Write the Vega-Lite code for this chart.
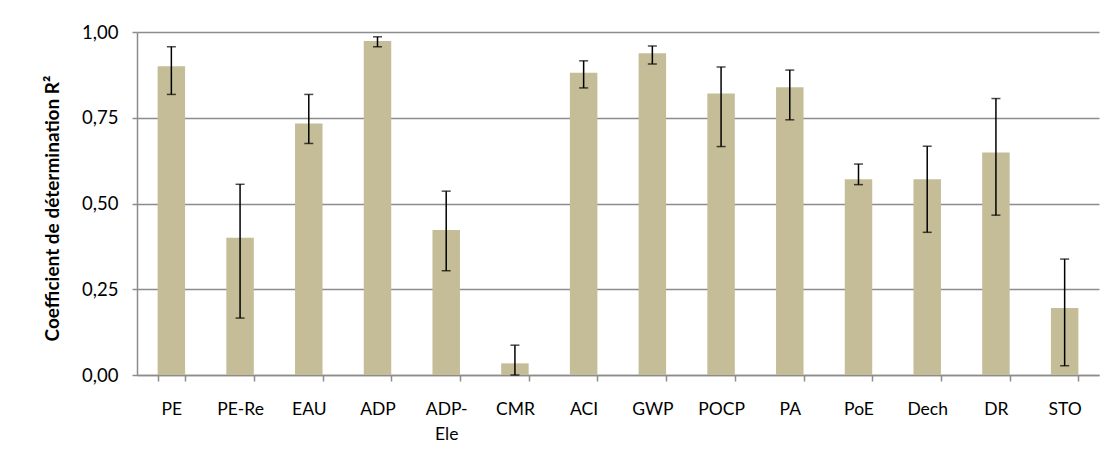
{
  "$schema": "https://vega.github.io/schema/vega-lite/v6.json",
  "autosize": "none",
  "width": 962,
  "height": 343,
  "padding": {"left": 137, "top": 32, "right": 16, "bottom": 93},
  "background": "white",
  "config": {
    "locale": {"number": {"decimal": ",", "thousands": " ", "grouping": [3], "currency": ["", " €"]}},
    "view": {"stroke": null},
    "font": "Lato"
  },
  "data": {
    "values": [
      {"cat": "PE", "r2": 0.90, "lo": 0.818, "hi": 0.957},
      {"cat": "PE-Re", "r2": 0.40, "lo": 0.166, "hi": 0.556},
      {"cat": "EAU", "r2": 0.733, "lo": 0.675, "hi": 0.818},
      {"cat": "ADP", "r2": 0.974, "lo": 0.957, "hi": 0.986},
      {"cat": "ADP-Ele", "r2": 0.423, "lo": 0.304, "hi": 0.536},
      {"cat": "CMR", "r2": 0.034, "lo": 0.0, "hi": 0.087},
      {"cat": "ACI", "r2": 0.881, "lo": 0.837, "hi": 0.916},
      {"cat": "GWP", "r2": 0.938, "lo": 0.907, "hi": 0.959},
      {"cat": "POCP", "r2": 0.821, "lo": 0.666, "hi": 0.898},
      {"cat": "PA", "r2": 0.839, "lo": 0.744, "hi": 0.889},
      {"cat": "PoE", "r2": 0.571, "lo": 0.555, "hi": 0.615},
      {"cat": "Dech", "r2": 0.571, "lo": 0.416, "hi": 0.667},
      {"cat": "DR", "r2": 0.649, "lo": 0.466, "hi": 0.806},
      {"cat": "STO", "r2": 0.195, "lo": 0.027, "hi": 0.338}
    ]
  },
  "encoding": {
    "x": {
      "field": "cat",
      "type": "nominal",
      "sort": null,
      "scale": {"paddingInner": 0.6, "paddingOuter": 0.3},
      "axis": {
        "title": null,
        "labelAngle": 0,
        "labelFont": "Lato",
        "labelFontSize": 17.5,
        "labelColor": "#000000",
        "labelPadding": 19,
        "labelLineHeight": 25,
        "labelBaseline": "top",
        "labelExpr": "datum.value == 'ADP-Ele' ? ['ADP-', 'Ele'] : datum.value",
        "tickBand": "extent",
        "tickSize": 6,
        "tickColor": "#8c8c8c",
        "tickWidth": 1.5,
        "domainColor": "#8c8c8c",
        "domainWidth": 1.5,
        "grid": false
      }
    }
  },
  "layer": [
    {
      "mark": {"type": "bar", "color": "#C4BD97"},
      "encoding": {
        "y": {
          "field": "r2",
          "type": "quantitative",
          "scale": {"domain": [0, 1], "nice": false},
          "axis": {
            "title": "Coefficient de détermination R²",
            "titleFont": "Lato",
            "titleFontSize": 19,
            "titleFontWeight": "bold",
            "titleColor": "#000000",
            "titlePadding": 19,
            "titleY": 176,
            "values": [0, 0.25, 0.5, 0.75, 1],
            "format": ".2f",
            "labelFont": "Lato",
            "labelFontSize": 18.5,
            "labelColor": "#000000",
            "labelPadding": 14,
            "tickSize": 5,
            "tickColor": "#8c8c8c",
            "tickWidth": 1.5,
            "domainColor": "#8c8c8c",
            "domainWidth": 1.5,
            "grid": true,
            "gridColor": "#8c8c8c",
            "gridWidth": 1.5
          }
        }
      }
    },
    {
      "mark": {"type": "rule", "color": "#000000", "strokeWidth": 1.5},
      "encoding": {
        "y": {"field": "lo", "type": "quantitative"},
        "y2": {"field": "hi"}
      }
    },
    {
      "mark": {"type": "tick", "color": "#000000", "size": 9, "thickness": 1.5},
      "encoding": {"y": {"field": "lo", "type": "quantitative"}}
    },
    {
      "mark": {"type": "tick", "color": "#000000", "size": 9, "thickness": 1.5},
      "encoding": {"y": {"field": "hi", "type": "quantitative"}}
    }
  ]
}
